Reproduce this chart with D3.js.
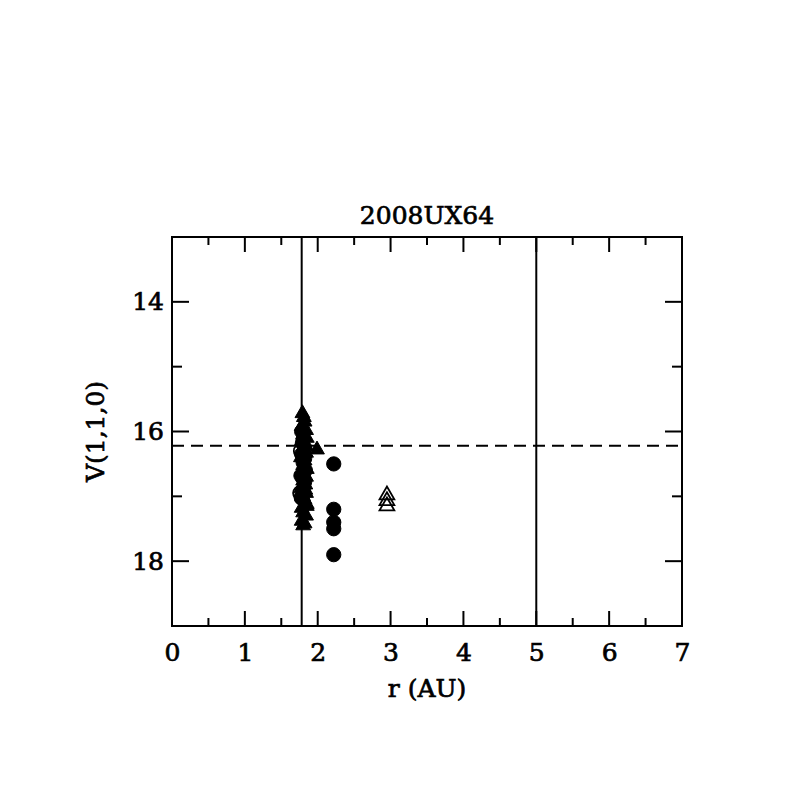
<!DOCTYPE html>
<html><head><meta charset="utf-8">
<script src="https://cdn.jsdelivr.net/npm/d3@7"></script>
<style>body{margin:0;background:#fff}</style>
</head><body>
<script>
const title = "2008UX64";
const xLabel = "r (AU)";
const yLabel = "V(1,1,0)";
const xTicks = [0,1,2,3,4,5,6,7];
const yTicks = [14,16,18];
const vLines = [1.78, 5.0];
const hLine = 16.22;
// filled triangles
const filledTriX = [1.79,1.81,1.82,1.78,1.84,1.80,1.85,1.78,1.83,1.80,1.84,1.77,1.82,1.80,1.85,1.78,1.84,1.80,1.83,1.77,1.84,1.80,1.82,1.85,1.78,1.80,1.84,1.78,1.82,1.80,1.85,1.83,1.99];
const filledTriY = [15.72,15.78,15.85,15.92,15.98,16.05,16.10,16.15,16.22,16.28,16.33,16.40,16.45,16.52,16.58,16.63,16.70,16.76,16.82,16.88,16.95,17.00,17.05,17.12,17.18,17.25,17.30,17.38,17.42,17.45,17.15,16.90,16.28];
// filled circles
const filledCircX = [1.78,1.80,1.82,1.78,1.80,1.83,1.77,1.82,1.80,1.78,1.82,1.79,2.22,2.22,2.22,2.22,2.22];
const filledCircY = [16.00,16.12,16.25,16.35,16.48,16.60,16.68,16.78,16.90,17.02,16.42,16.18,16.50,17.20,17.40,17.50,17.90];
// open circles
const openCircX = [1.76,1.78,1.80,1.77];
const openCircY = [16.95,17.02,16.72,16.30];
// open triangles
const openTriX = [2.95,2.95,2.95];
const openTriY = [16.98,17.07,17.15];

const W = 797, H = 797;
const m = {l:172, r:682, t:237, b:626};
const svg = d3.select("body").append("svg").attr("width",W).attr("height",H);
const x = d3.scaleLinear().domain([0,7]).range([m.l,m.r]);
const y = d3.scaleLinear().domain([13,19]).range([m.t,m.b]);
const font = "'DejaVu Serif', serif";

svg.append("rect").attr("x",m.l).attr("y",m.t).attr("width",m.r-m.l).attr("height",m.b-m.t)
  .attr("fill","none").attr("stroke","#000").attr("stroke-width",2);

const xMinor = d3.range(0,7.01,0.5);
const yMinor = d3.range(13,19.01,1);
const tk = svg.append("g").attr("stroke","#000").attr("stroke-width",2);
xMinor.forEach(v=>{
  const L = Number.isInteger(v) ? 15 : 8;
  tk.append("line").attr("x1",x(v)).attr("x2",x(v)).attr("y1",m.b).attr("y2",m.b-L);
  tk.append("line").attr("x1",x(v)).attr("x2",x(v)).attr("y1",m.t).attr("y2",m.t+L);
});
yMinor.forEach(v=>{
  const L = (v%2===0) ? 17 : 10;
  tk.append("line").attr("y1",y(v)).attr("y2",y(v)).attr("x1",m.l).attr("x2",m.l+L);
  tk.append("line").attr("y1",y(v)).attr("y2",y(v)).attr("x1",m.r).attr("x2",m.r-L);
});

const xAxis = svg.append("g").attr("transform",`translate(0,${m.b})`)
  .call(d3.axisBottom(x).tickValues(xTicks).tickSize(0).tickPadding(17).tickFormat(d3.format("d")));
const yAxis = svg.append("g").attr("transform",`translate(${m.l},0)`)
  .call(d3.axisLeft(y).tickValues(yTicks).tickSize(0).tickPadding(8).tickFormat(d3.format("d")));
[xAxis,yAxis].forEach(a=>{
  a.select(".domain").remove();
  a.selectAll("text").attr("font-family",font).attr("font-size",25).attr("fill","#000")
   .attr("stroke","#000").attr("stroke-width",0.7);
});

vLines.forEach(v=>{
  svg.append("line").attr("x1",x(v)).attr("x2",x(v)).attr("y1",m.t).attr("y2",m.b)
    .attr("stroke","#000").attr("stroke-width",2);
});
svg.append("line").attr("x1",m.l).attr("x2",m.r).attr("y1",y(hLine)).attr("y2",y(hLine))
  .attr("stroke","#000").attr("stroke-width",2).attr("stroke-dasharray","12,7");

const tri = d3.symbol().type(d3.symbolTriangle).size(95);
const circ = d3.symbol().type(d3.symbolCircle).size(160);
const plot = svg.append("g");
function draw(xs, ys, gen, filled){
  plot.selectAll(null).data(xs.map((v,i)=>[v,ys[i]])).enter().append("path")
    .attr("d",gen).attr("transform",d=>`translate(${x(d[0])},${y(d[1])})`)
    .attr("fill",filled?"#000":"none").attr("stroke","#000").attr("stroke-width",filled?1:1.8);
}
draw(openCircX, openCircY, circ, false);
draw(filledCircX, filledCircY, circ, true);
draw(filledTriX, filledTriY, tri, true);
draw(openTriX, openTriY, tri, false);

function lbl(t){ return t.attr("font-family",font).attr("font-size",25).attr("text-anchor","middle")
  .attr("stroke","#000").attr("stroke-width",0.7); }
lbl(svg.append("text").attr("x",(m.l+m.r)/2).attr("y",224).text(title));
lbl(svg.append("text").attr("x",(m.l+m.r)/2).attr("y",697).text(xLabel));
lbl(svg.append("text").attr("transform",`translate(104,${(m.t+m.b)/2}) rotate(-90)`).text(yLabel));
</script>
</body></html>
